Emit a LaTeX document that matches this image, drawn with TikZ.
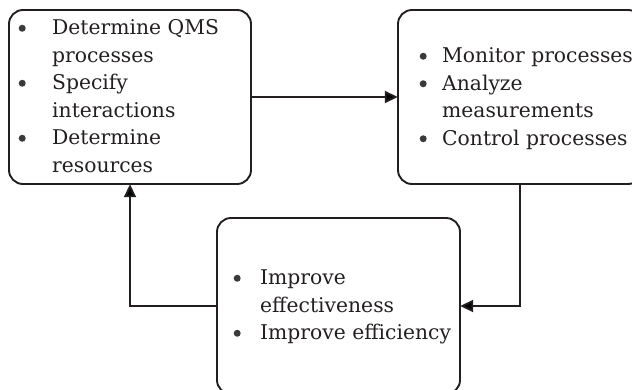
\documentclass[tikz,border=0pt]{standalone}
\usepackage{fontspec}
\setmainfont{DejaVu Serif}
\usetikzlibrary{arrows.meta}
\definecolor{ink}{HTML}{231F20}
\definecolor{dot}{HTML}{3A3A3A}
\newcommand{\bul}{\tikz[x=1cm,y=1cm,baseline=-6.6pt]\fill[dot] (0,0) circle (3.5pt);}
\tikzset{
  box/.style={draw=ink, line width=1.9pt, rounded corners=14pt},
  txt/.style={anchor=north west, inner sep=0pt, text=ink,
    font=\fontsize{20.3}{27.5}\selectfont},
  conn/.style={draw=ink, line width=1.9pt, -{Triangle[length=13pt,width=12pt]}},
}
\begin{document}
\begin{tikzpicture}[x=1pt,y=-1pt]
\useasboundingbox (0,0) rectangle (632,389);
\draw[box] (9,10) rectangle (251,184);
\node[inner sep=0pt, minimum width=242pt, minimum height=174pt] (b1) at (130,97) {};
\draw[box] (398,10) rectangle (642,184);
\node[inner sep=0pt, minimum width=244pt, minimum height=174pt] (b2) at (520,97) {};
\draw[box] (217,218) rectangle (460,394);
\node[inner sep=0pt, minimum width=243pt, minimum height=176pt] (b3) at (338.5,306) {};
\node[txt] (t1) at (18.5,15.4) {\begin{tabular}{@{}p{33.5pt}@{}l@{}}
\bul & Determine QMS\\ & processes\\ \bul & Specify\\ & interactions\\ \bul & Determine\\ & resources\end{tabular}};
\node[txt] (t2) at (419.5,43.4) {\begin{tabular}{@{}p{22.5pt}@{}l@{}}
\bul & Monitor processes\\ \bul & Analyze\\ & measurements\\ \bul & Control processes\end{tabular}};
\node[txt] (t3) at (233.5,265.4) {\begin{tabular}{@{}p{26.5pt}@{}l@{}}
\bul & Improve\\ & effectiveness\\ \bul & Improve efficiency\end{tabular}};
\draw[conn] (b1.east) -- (b2.west);
\draw[conn] (b2.south) |- (b3.east);
\draw[conn] (b3.west) -| (b1.south);
\end{tikzpicture}
\end{document}
